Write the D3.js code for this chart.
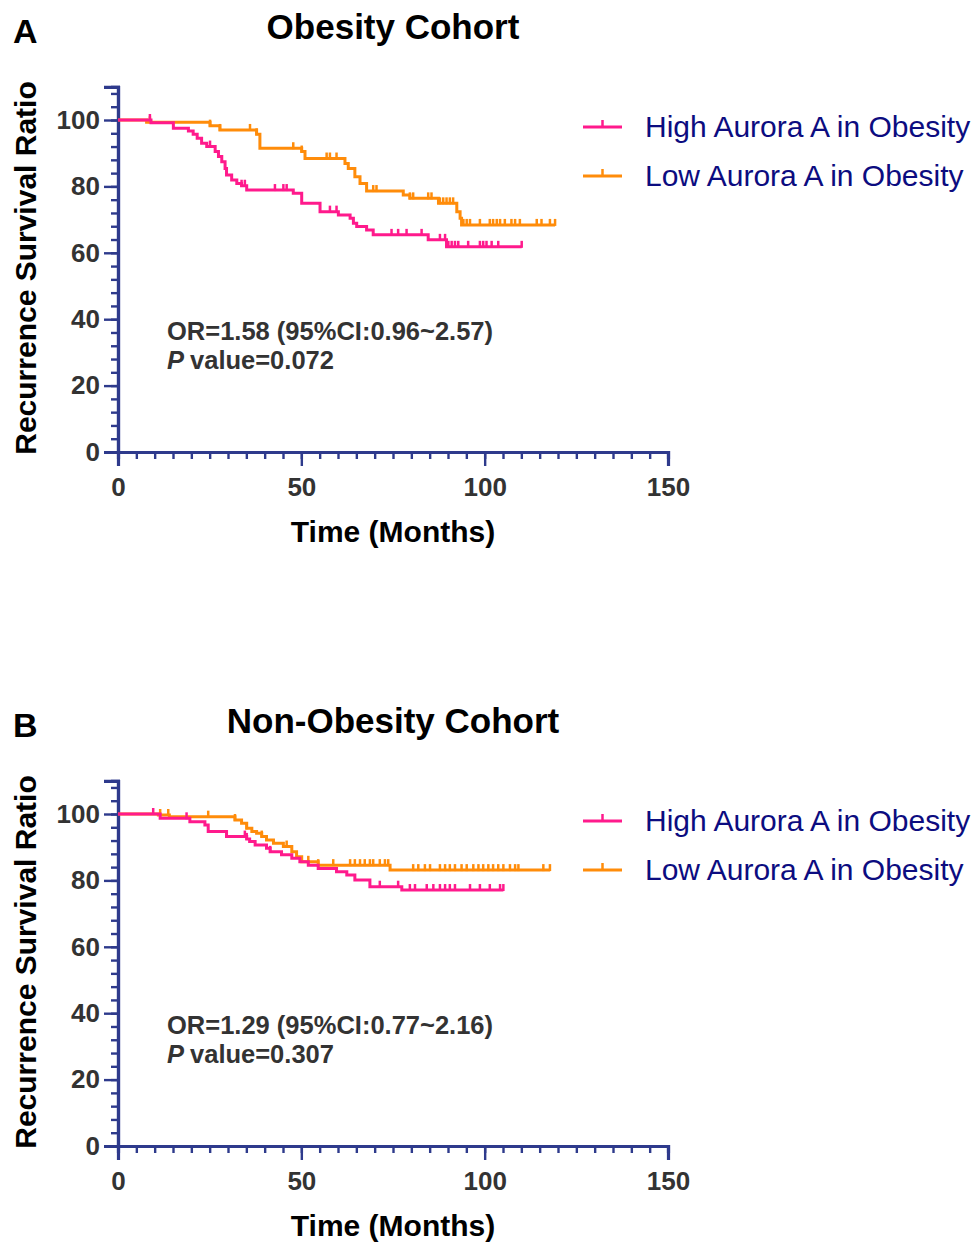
<!DOCTYPE html>
<html>
<head>
<meta charset="utf-8">
<script src="https://cdn.jsdelivr.net/npm/d3@7"></script>
<style>
body { margin: 0; background: #fff; }
text { font-family: "Liberation Sans", Arial, sans-serif; }
</style>
</head>
<body>
<svg id="chart" width="976" height="1243"></svg>
<script>
// ---- data ----
var seriesNames = ["High Aurora A in Obesity", "Low Aurora A in Obesity"];
var panelTitles = ["Obesity Cohort", "Non-Obesity Cohort"];
var panelLetters = ["A", "B"];
var orText = ["OR=1.58 (95%CI:0.96~2.57)", "OR=1.29 (95%CI:0.77~2.16)"];
var pText = ["value=0.072", "value=0.307"];
var xTicks = [0, 50, 100, 150];
var yTicks = [0, 20, 40, 60, 80, 100];

// Panel A, high
var highA_t = [0, 9, 15.1, 19.2, 20.5, 21.6, 22.8, 24.2, 26.5, 27.4, 28.3, 29.2, 29.6, 31, 32.4, 33.7, 35.1, 47.8, 50.1, 55.1, 60.1, 63.3, 64.2, 65.1, 67.8, 69.6, 84.6, 89.6];
var highA_s = [100, 99.2, 97.5, 96.7, 95.7, 94.5, 93, 92, 90.5, 89, 87.4, 85.4, 83.4, 81.9, 80.9, 80.2, 78.9, 77.9, 74.9, 72.4, 71.4, 70.4, 68.9, 67.9, 66.9, 65.4, 63.9, 61.8];
var highA_end = 110.1;
var highA_cens = [8.7, 25.1, 33.7, 34.6, 42.8, 45.1, 46, 57.8, 59.6, 74.6, 76.4, 78.7, 82.8, 87.8, 89.2, 90.1, 91, 91.9, 92.8, 95.5, 98.7, 99.6, 100.5, 101.9, 103.7, 110.1];

// Panel A, low
var lowA_t = [0, 7.8, 25.1, 27.8, 37.8, 38.7, 50.1, 51, 61.9, 62.8, 64.6, 66, 67.8, 77.8, 79.6, 87.4, 92.4, 93.3, 93.7];
var lowA_s = [100, 99.3, 98.3, 97, 95.7, 91.5, 90.5, 88.4, 86.9, 85.4, 82.9, 80.9, 78.6, 77.4, 76.4, 74.9, 72.4, 70.4, 68.4];
var lowA_end = 119.2;
var lowA_cens = [8.7, 25.1, 27.8, 36, 37.8, 47.8, 50.1, 56.9, 57.8, 59.6, 69.6, 70.5, 79.6, 80.5, 84.6, 85.5, 87.8, 88.7, 89.6, 90.5, 91.4, 94.2, 95.1, 96, 98.7, 101.4, 102.3, 103.3, 104.2, 105.5, 107.3, 108.3, 109.6, 114.2, 115.5, 117.8, 119.2];

// Panel B, high
var highB_t = [0, 11.5, 19.6, 23.7, 24.6, 29.6, 35.1, 35.9, 37.4, 40.5, 41.5, 44.6, 47.4, 49.6, 51.9, 54.6, 59.6, 62.4, 64.6, 68.7, 77.4];
var highB_s = [100, 98.7, 97.7, 96.7, 94.7, 93.2, 92.5, 91.7, 90.7, 89.7, 88.6, 87.7, 86.7, 85.6, 84.6, 83.6, 82.6, 81.6, 80.1, 78.1, 77.1];
var highB_end = 105.1;
var highB_cens = [9.6, 18.7, 34.6, 35.1, 41.5, 71.4, 76.4, 79.6, 81, 84.2, 86, 87.8, 89.2, 90.5, 91.9, 96, 98.7, 101.4, 104.2, 105.1];

// Panel B, low
var lowB_t = [0, 11, 14, 31.9, 33.7, 35.1, 36.5, 37.8, 39.2, 40.5, 42.4, 45.1, 47.4, 48.7, 50.1, 54.6, 74.2];
var lowB_s = [100, 99.7, 99.2, 98.2, 97.2, 95.7, 94.7, 94.2, 93.2, 92.2, 91.2, 90.2, 88.6, 87.1, 85.6, 84.6, 83.1];
var lowB_end = 117.8;
var lowB_cens = [11.5, 13.7, 24.6, 31.9, 35.1, 39.2, 46, 51.9, 54.6, 58.7, 63.3, 64.6, 66, 67.3, 68.7, 69.6, 71.4, 72.8, 73.7, 80.5, 81.9, 83.7, 85.1, 87.8, 89.2, 90.5, 91.9, 93.7, 95.1, 96.9, 98.3, 99.6, 101, 102.3, 103.7, 105.1, 106.9, 108.3, 109.2, 116, 117.8];

var colors = ["#ff1a8c", "#ff8c0a"];
var axisColor = "#2e3a8c";

var svg = d3.select("#chart");

function survAt(ts, ss, t){
    var v = ss[0];
    for(var i = 0; i < ts.length; i++){
        if(ts[i] <= t) v = ss[i];
    }
    return v;
}

function drawPanel(p, curves){
    var oy = p * 694;
    var g = svg.append("g").attr("transform", "translate(0," + oy + ")");

    var x = d3.scaleLinear().domain([0, 150]).range([118, 668]);
    var y = d3.scaleLinear().domain([0, 110]).range([452, 452 - 3.32 * 110]);

    // letter + title
    g.append("text").attr("x", 13).attr("y", 43)
        .attr("font-size", 34).attr("font-weight", "bold").text(panelLetters[p]);
    g.append("text").attr("x", 393).attr("y", 39).attr("text-anchor", "middle")
        .attr("font-size", 35).attr("font-weight", "bold").text(panelTitles[p]);

    // minor ticks
    var yMinor = d3.axisLeft(y).tickValues(d3.range(0, 110, 4)).tickSize(7).tickFormat("");
    var xMinor = d3.axisBottom(x).tickValues(d3.range(0, 151, 5)).tickSize(7).tickFormat("");
    var yMajor = d3.axisLeft(y).tickValues(yTicks).tickSize(14).tickPadding(4);
    var xMajor = d3.axisBottom(x).tickValues(xTicks).tickSize(14).tickPadding(12);

    [yMinor, yMajor].forEach(function(a){
        g.append("g").attr("class", "axis").attr("transform", "translate(118,0)").call(a);
    });
    [xMinor, xMajor].forEach(function(a){
        g.append("g").attr("class", "axis").attr("transform", "translate(0,452)").call(a);
    });
    g.selectAll(".axis path").attr("stroke", axisColor).attr("stroke-width", 3.2);
    g.selectAll(".axis line").attr("stroke", axisColor).attr("stroke-width", 2.4);
    g.selectAll(".axis text").attr("font-size", 26).attr("font-weight", "bold")
        .attr("fill", "#333").attr("font-family", "'Liberation Sans', Arial, sans-serif");

    // axis titles
    g.append("text").attr("transform", "translate(36,268) rotate(-90)")
        .attr("text-anchor", "middle").attr("font-size", 30).attr("font-weight", "bold")
        .text("Recurrence Survival Ratio");
    g.append("text").attr("x", 393).attr("y", 542).attr("text-anchor", "middle")
        .attr("font-size", 30).attr("font-weight", "bold").text("Time (Months)");

    // curves: low under, high on top
    var line = d3.line().x(function(d){ return x(d[0]); }).y(function(d){ return y(d[1]); })
        .curve(d3.curveStepAfter);
    [1, 0].forEach(function(k){
        var c = curves[k];
        var pts = c.t.map(function(t, i){ return [t, c.s[i]]; });
        pts.push([c.end, c.s[c.s.length - 1]]);
        g.append("path").attr("d", line(pts)).attr("fill", "none")
            .attr("stroke", colors[k]).attr("stroke-width", 3);
        g.selectAll(null).data(c.cens).enter().append("line")
            .attr("x1", function(d){ return x(d); }).attr("x2", function(d){ return x(d); })
            .attr("y1", function(d){ return y(survAt(c.t, c.s, d)) + 1; })
            .attr("y2", function(d){ return y(survAt(c.t, c.s, d)) - 6; })
            .attr("stroke", colors[k]).attr("stroke-width", 2.5);
    });

    // legend
    seriesNames.forEach(function(name, k){
        var ly = 127 + k * 49;
        g.append("line").attr("x1", 583).attr("x2", 622).attr("y1", ly).attr("y2", ly)
            .attr("stroke", colors[k]).attr("stroke-width", 3);
        g.append("line").attr("x1", 602.5).attr("x2", 602.5).attr("y1", ly).attr("y2", ly - 7)
            .attr("stroke", colors[k]).attr("stroke-width", 2.5);
        g.append("text").attr("x", 645).attr("y", ly + 10).attr("font-size", 30)
            .attr("fill", "#0c0c80").text(name);
    });

    // annotation
    g.append("text").attr("x", 167).attr("y", 340).attr("font-size", 25.5)
        .attr("font-weight", "bold").attr("fill", "#333").text(orText[p]);
    var pt = g.append("text").attr("x", 167).attr("y", 369).attr("font-size", 25.5)
        .attr("font-weight", "bold").attr("fill", "#333");
    pt.append("tspan").attr("font-style", "italic").text("P");
    pt.append("tspan").attr("dx", 6).text(pText[p]);
}

drawPanel(0, [
    {t: highA_t, s: highA_s, end: highA_end, cens: highA_cens},
    {t: lowA_t, s: lowA_s, end: lowA_end, cens: lowA_cens}
]);
drawPanel(1, [
    {t: highB_t, s: highB_s, end: highB_end, cens: highB_cens},
    {t: lowB_t, s: lowB_s, end: lowB_end, cens: lowB_cens}
]);
</script>
</body>
</html>
